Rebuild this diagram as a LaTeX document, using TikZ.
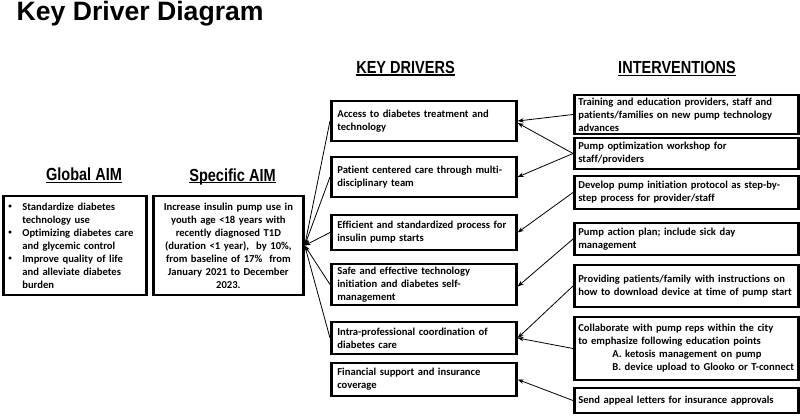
\documentclass[tikz,border=0pt]{standalone}
\usepackage{fontspec}
\setmainfont[Ligatures=NoCommon]{Carlito}
\newfontfamily\titlefont{Liberation Sans}
\newfontfamily\narrowf[FakeStretch=0.83]{Liberation Sans}
\usetikzlibrary{arrows.meta}
\newsavebox\ulbox
\newcommand\myul[1]{\sbox\ulbox{#1}\rlap{\rule[-2.3pt]{\wd\ulbox}{1.3pt}}\usebox\ulbox}
\newcommand\bul{\makebox[14pt][l]{\raisebox{1.2pt}{\fontsize{7}{7}\selectfont•}}}
\begin{document}
\begin{tikzpicture}[x=1pt,y=-1pt,
  boxst/.style={draw=black, line width=2.7pt, inner xsep=6pt, inner ysep=0pt,
    align=left, anchor=west, font=\bfseries\fontsize{10.6}{13}\selectfont},
  drv/.style={boxst, text width=173pt},
  intv/.style={boxst, inner xsep=4pt, text width=216pt},
  head/.style={inner sep=0pt, anchor=base, font=\narrowf\bfseries\fontsize{17.5}{20}\selectfont},
  arr/.style={line width=0.8pt, -{Stealth[length=6pt,width=4.5pt]}}
]
\useasboundingbox (0,0) rectangle (800,420);
\fill[white] (0,0) rectangle (800,420);

\node[inner sep=0pt, anchor=base west, font=\titlefont\bfseries\fontsize{26.6}{30}\selectfont] (title) at (16.5,20.5) {Key Driver Diagram};

\node[head] (hglob) at (84,180.5) {\myul{Global AIM}};
\node[head] (hspec) at (232.5,181) {\myul{Specific AIM}};
\node[head] (hdrv) at (405.5,73.5) {\myul{KEY DRIVERS}};
\node[head] (hint) at (677,74) {\myul{INTERVENTIONS}};

% Global AIM
\node[boxst, text width=133pt, minimum height=99pt, inner xsep=5pt] (glob) at (2,245.5)
{\bul Standardize diabetes\\
\hspace*{14pt}technology use\\
\bul Optimizing diabetes care\\
\hspace*{14pt}and glycemic control\\
\bul Improve quality of life\\
\hspace*{14pt}and alleviate diabetes\\
\hspace*{14pt}burden};

% Specific AIM
\node[boxst, align=center, text width=138pt, minimum height=99pt] (spec) at (152,245.5)
{Increase insulin pump use in\\
youth age <18 years with\\
recently diagnosed T1D\\
(duration <1 year),~ by 10\%,\\
from baseline of 17\%~ from\\
January 2021 to December\\
2023.};

% Key drivers
\node[drv, minimum height=40pt] (acc) at (330,121) {Access to diabetes treatment and\\technology};
\node[drv, minimum height=40pt] (pat) at (330,177) {Patient centered care through multi-\\disciplinary team};
\node[drv, minimum height=35pt] (eff) at (330,232.5) {Efficient and standardized process for\\insulin pump starts};
\node[drv, minimum height=41pt] (safe) at (330,284.5) {Safe and effective technology\\initiation and diabetes self-\\management};
\node[drv, minimum height=32pt] (intra) at (330,338) {Intra-professional coordination of\\diabetes care};
\node[drv, minimum height=33pt] (fin) at (330,379.5) {Financial support and insurance\\coverage};

% Interventions
\node[intv, minimum height=39pt] (train) at (573,114.5) {Training and education providers, staff and\\patients/families on new pump technology\\advances};
\node[intv, minimum height=31pt] (opt) at (573,153.5) {Pump optimization workshop for\\staff/providers};
\node[intv, minimum height=33pt] (dev) at (573,192.5) {Develop pump initiation protocol as step-by-\\step process for provider/staff};
\node[intv, minimum height=32pt] (act) at (573,239) {Pump action plan; include sick day\\management};
\node[intv, minimum height=42pt] (prov) at (573,286) {\mbox{Providing patients/family with instructions on}\\\mbox{how to download device at time of pump start}};
\node[intv, minimum height=63pt] (coll) at (573,348.5) {Collaborate with pump reps within the city\\to emphasize following education points\\\hspace*{34pt}A. ketosis management on pump\\\hspace*{34pt}\mbox{B. device upload to Glooko or T-connect}};
\node[intv, minimum height=25pt] (send) at (573,400.5) {Send appeal letters for insurance approvals};

% Drivers -> Specific AIM
\foreach \d in {acc,pat,eff,safe,intra}
  \draw[arr] (\d.west) -- (spec.east);

% Interventions -> Drivers
\draw[arr] (train.west) -- (acc.east);
\draw[arr] (opt.west) -- ([yshift=-2pt]acc.east);
\draw[arr] (opt.west) -- (pat.east);
\draw[arr] (dev.west) -- (eff.east);
\draw[arr] (act.west) -- ([yshift=-2pt]safe.east);
\draw[arr] (prov.west) -- (intra.east);
\draw[arr] (coll.west) -- (intra.east);
\draw[arr] (send.west) -- (fin.east);
\end{tikzpicture}
\end{document}
